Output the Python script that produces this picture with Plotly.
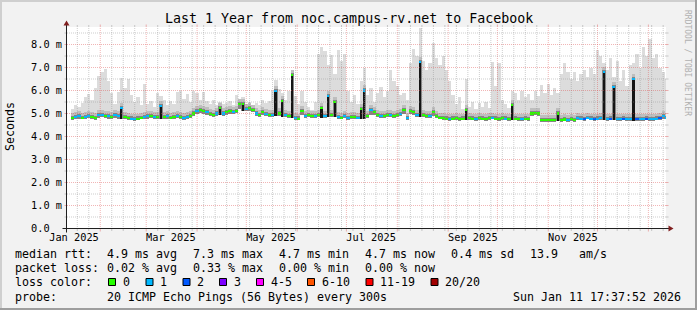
import plotly.graph_objects as go
import pandas as pd

# ---------------- data (2-day bins, first bin centred on 2025-01-13) ----------------
bin_first_centre = "2025-01-13"

median_ms = [
    None, 4.80, 4.85, 4.88, 4.82, 4.86, 4.90, 4.84, 4.80, 4.92,
    4.95, 4.90, 4.88, 4.85, 4.92, 4.88, 5.22, 4.85, 4.80, 4.78,
    4.75, 4.78, 4.82, 4.85, 4.88, 4.90, 4.86, 4.84, 5.32, 4.85,
    4.88, 4.82, 4.86, 4.90, 4.84, 4.80, 4.86, 4.90, 5.00, 5.10,
    5.15, 5.12, 5.05, 4.98, 4.95, 5.00, 5.22, 5.00, 5.05, 5.10,
    5.08, 5.12, 5.42, 5.40, 5.20, 5.22, 5.15, 5.00, 4.95, 5.05,
    4.98, 4.92, 4.95, 5.98, 5.00, 5.56, 4.95, 4.90, 6.67, 4.80,
    4.78, 5.10, 4.90, 4.95, 4.90, 4.88, 4.92, 5.22, 4.90, 5.76,
    4.95, 5.48, 4.85, 4.82, 4.88, 4.80, 4.84, 4.86, 4.82, 5.20,
    6.00, 4.90, 5.15, 5.05, 4.95, 4.90, 4.88, 4.92, 4.95, 4.90,
    4.95, 4.98, 5.15, 4.80, 5.10, 5.05, 4.95, 7.25, 4.92, 4.88,
    4.90, 5.07, 4.88, 4.82, 4.80, 4.78, 4.76, 4.78, 4.80, 4.76,
    4.78, 5.15, 4.80, 4.78, 4.76, 4.80, 4.78, 4.76, 4.80, 4.82,
    4.78, 4.76, 4.80, 4.78, 4.76, 5.37, 4.78, 4.76, 4.75, 4.78,
    4.76, 5.00, 5.02, 5.00, 4.72, 4.70, 4.71, 4.70, 4.72, 5.00,
    4.72, 4.74, 4.72, 4.75, 4.73, 4.80, 4.78, 4.76, 4.82, 4.78,
    4.76, 4.78, 4.80, 6.82, 4.76, 4.78, 6.17, 4.76, 4.75, 4.78,
    4.76, 4.75, 6.49, 4.76, 4.75, 4.76, 4.78, 4.75, 4.76, 4.78,
    4.80, 4.90, 4.82,
]

smoke_max_ms = [
    None, 5.20, 5.35, 5.30, 5.45, 5.70, 5.85, 5.60, 6.10, 6.65,
    6.80, 6.95, 6.40, 5.90, 5.40, 5.95, 6.55, 6.10, 6.50, 5.80,
    5.50, 5.70, 5.35, 6.30, 5.40, 5.55, 5.30, 5.90, 5.75, 5.60,
    5.35, 5.55, 5.40, 5.95, 6.00, 5.65, 5.85, 5.50, 6.00, 5.90,
    5.60, 5.95, 5.55, 5.40, 5.60, 5.35, 5.50, 5.40, 5.45, 5.55,
    5.35, 5.80, 5.65, 5.70, 5.40, 5.50, 5.25, 5.45, 5.35, 5.60,
    5.45, 5.55, 6.00, 6.45, 6.05, 5.90, 5.60, 6.00, 6.80, 5.75,
    5.40, 6.00, 5.50, 5.30, 5.15, 5.50, 7.60, 7.90, 7.70, 7.10,
    7.55, 6.70, 7.75, 7.30, 7.60, 6.00, 5.50, 5.80, 5.40, 6.40,
    7.00, 5.80, 6.10, 5.50, 5.90, 6.15, 5.70, 6.00, 6.90, 6.40,
    6.20, 5.80, 5.90, 5.60, 7.20, 7.80, 7.50, 8.70, 7.30, 6.90,
    7.20, 8.05, 7.40, 7.10, 7.50, 6.90, 6.40, 5.80, 5.40, 5.70,
    5.20, 6.50, 5.30, 5.50, 5.20, 5.45, 5.30, 5.50, 5.25, 7.25,
    6.20, 7.20, 5.60, 5.40, 5.25, 6.00, 5.90, 5.60, 6.00, 5.70,
    5.85, 5.60, 6.00, 5.75, 6.25, 5.90, 6.30, 5.80, 6.10, 5.90,
    6.70, 7.20, 6.80, 6.50, 6.80, 6.40, 6.70, 6.90, 6.60, 7.00,
    6.70, 7.75, 7.50, 7.20, 6.90, 7.40, 6.60, 7.30, 6.40, 6.90,
    6.20, 7.10, 7.20, 7.60, 7.00, 7.90, 7.50, 8.25, 7.40, 7.60,
    7.00, 6.80, 6.50,
]

smoke_min_ms = [
    None, 4.72, 4.76, 4.78, 4.74, 4.76, 4.80, 4.75, 4.72, 4.82,
    4.85, 4.80, 4.78, 4.76, 4.82, 4.78, 4.78, 4.76, 4.72, 4.70,
    4.68, 4.70, 4.74, 4.76, 4.78, 4.80, 4.77, 4.75, 4.76, 4.76,
    4.78, 4.74, 4.77, 4.80, 4.75, 4.72, 4.77, 4.80, 4.90, 4.98,
    5.02, 5.00, 4.95, 4.88, 4.86, 4.90, 4.92, 4.90, 4.95, 5.00,
    4.98, 5.02, 5.20, 5.10, 5.10, 5.12, 5.05, 4.90, 4.86, 4.95,
    4.88, 4.84, 4.86, 4.88, 4.90, 4.86, 4.86, 4.82, 4.80, 4.72,
    4.70, 4.92, 4.82, 4.86, 4.82, 4.80, 4.84, 4.82, 4.82, 4.84,
    4.86, 4.84, 4.77, 4.74, 4.80, 4.72, 4.76, 4.78, 4.74, 4.76,
    4.78, 4.82, 4.95, 4.95, 4.86, 4.82, 4.80, 4.84, 4.86, 4.82,
    4.86, 4.88, 5.00, 4.72, 4.98, 4.95, 4.86, 4.84, 4.84, 4.80,
    4.82, 4.90, 4.80, 4.74, 4.72, 4.70, 4.68, 4.70, 4.72, 4.68,
    4.70, 4.72, 4.72, 4.70, 4.68, 4.72, 4.70, 4.68, 4.72, 4.74,
    4.70, 4.68, 4.72, 4.70, 4.68, 4.72, 4.70, 4.68, 4.67, 4.70,
    4.68, 4.90, 4.92, 4.90, 4.64, 4.62, 4.63, 4.62, 4.64, 4.66,
    4.64, 4.66, 4.64, 4.67, 4.65, 4.72, 4.70, 4.68, 4.74, 4.70,
    4.68, 4.70, 4.72, 4.70, 4.68, 4.70, 4.70, 4.68, 4.67, 4.70,
    4.68, 4.67, 4.68, 4.68, 4.67, 4.68, 4.70, 4.67, 4.68, 4.70,
    4.72, 4.78, 4.74,
]

# loss colour bucket index for each bin
loss_bucket = [
    0, 0, 1, 1, 0, 1, 1, 0, 0, 1,
    1, 0, 1, 0, 1, 1, 1, 0, 0, 1,
    1, 0, 0, 1, 1, 0, 1, 0, 1, 0,
    1, 0, 0, 1, 0, 1, 1, 0, 0, 1,
    0, 0, 1, 0, 0, 1, 0, 1, 0, 0,
    1, 0, 0, 0, 1, 0, 0, 1, 0, 0,
    1, 0, 1, 1, 0, 0, 1, 0, 0, 1,
    0, 0, 1, 0, 0, 1, 0, 0, 1, 1,
    0, 0, 1, 0, 1, 1, 0, 0, 1, 0,
    1, 0, 1, 0, 0, 1, 0, 0, 1, 0,
    0, 1, 0, 1, 0, 0, 1, 1, 0, 0,
    1, 0, 0, 0, 0, 0, 1, 0, 0, 0,
    0, 0, 0, 0, 1, 0, 0, 0, 0, 1,
    0, 0, 0, 1, 0, 0, 0, 0, 1, 0,
    0, 0, 0, 0, 0, 0, 0, 0, 0, 0,
    0, 0, 1, 0, 0, 1, 1, 2, 1, 1,
    2, 1, 1, 1, 1, 2, 1, 1, 1, 2,
    1, 1, 1, 2, 1, 1, 2, 1, 1, 1,
    2, 1, 1,
]

loss_labels = ["0", "1", "2", "3", "4-5", "6-10", "11-19", "20/20"]
loss_colors = ["#26ff00", "#00b8ff", "#0059ff", "#7e00ff",
               "#ff00ff", "#ff5500", "#ff0000", "#a10000"]

y_tick_vals = [0, 1, 2, 3, 4, 5, 6, 7, 8]
y_tick_text = ["0.0&nbsp;&nbsp;", "1.0 m", "2.0 m", "3.0 m", "4.0 m",
               "5.0 m", "6.0 m", "7.0 m", "8.0 m"]
x_tick_dates = ["2025-01-16", "2025-03-16", "2025-05-16",
                "2025-07-16", "2025-09-16", "2025-11-16"]
x_tick_text = ["Jan 2025", "Mar 2025", "May 2025",
               "Jul 2025", "Sep 2025", "Nov 2025"]

rtt_values = ["4.9", "7.3", "4.7", "4.7", "0.4"]
rtt_names = ["avg", "max", "min", "now", "sd"]
rtt_am_per_s = "13.9"
loss_values = ["0.02", "0.33", "0.00", "0.00"]
loss_names = ["avg", "max", "min", "now"]

title_text = "Last 1 Year from noc.campus-rv.net to Facebook"
probe_text = "20 ICMP Echo Pings (56 Bytes) every 300s"
stamp_text = "Sun Jan 11 17:37:52 2026"
t_start = "2025-01-11 17:37:52"
t_end = "2026-01-11 17:37:52"

# ---------------- geometry / style ----------------
W, H = 697, 310
PL, PR, PT, PB = 67, 31, 27, 81
PW, PH = W - PL - PR, H - PT - PB
PX_PER_MS = 23.0
MONO = "DejaVu Sans Mono"
DAY = 86400000


def fx(px):
    return (px - PL) / PW


def fy(py):
    return (H - PB - py) / PH


bins = pd.date_range(bin_first_centre, periods=len(median_ms), freq="2D")
idx = [i for i, m in enumerate(median_ms) if m is not None]
xs = [bins[i] for i in idx]
lo = [smoke_min_ms[i] for i in idx]
hi = [smoke_max_ms[i] for i in idx]
med = [median_ms[i] for i in idx]
loss = [loss_bucket[i] for i in idx]


def bar(x, base, top, color, width):
    return go.Bar(x=x, base=base, y=[t - b for t, b in zip(top, base)],
                  width=width, marker=dict(color=color, line=dict(width=0)),
                  hoverinfo="skip", showlegend=False)


fig = go.Figure()
fig.add_trace(bar(xs, lo, hi, "#dcdcdc", 2 * DAY))
fig.add_trace(bar(xs, lo, [m + 0.22 for m in med], "#bebebe", 2 * DAY))
fig.add_trace(bar(xs, lo, [m + 0.09 for m in med], "#858585", 2 * DAY))
spk = [j for j in range(len(med)) if med[j] - lo[j] > 0.28]
fig.add_trace(bar([xs[j] for j in spk], [lo[j] for j in spk],
                  [med[j] for j in spk], "#151515", 1.1 * DAY))
med_w = [1.2 * DAY if j in spk else 2 * DAY for j in range(len(med))]
fig.add_trace(go.Bar(x=xs, base=[m - 0.045 for m in med], y=[0.09] * len(med),
                     width=med_w,
                     marker=dict(color=[loss_colors[b] for b in loss], line=dict(width=0)),
                     hoverinfo="skip", showlegend=False))

# ---------------- grid (drawn above the data like rrdtool) ----------------
shapes = []
MINOR = "rgba(143,143,143,0.45)"
MAJOR = "rgba(222,79,79,0.42)"
months = pd.date_range("2025-02-01", "2026-01-01", freq="MS")
weeks = pd.date_range("2025-01-18", "2026-01-11", freq="7D")
mset = set(months)
for d in weeks:
    if d in mset:
        continue
    shapes.append(dict(type="line", xref="x", yref="paper", x0=d, x1=d, y0=0, y1=1,
                       layer="above", line=dict(color=MINOR, width=1, dash="1px,1px")))
    for a, b in ((fy(231), fy(229)), (fy(27), fy(25))):
        shapes.append(dict(type="line", xref="x", yref="paper", x0=d, x1=d, y0=a, y1=b,
                           layer="above", line=dict(color=MINOR, width=1)))
for d in months:
    shapes.append(dict(type="line", xref="x", yref="paper", x0=d, x1=d, y0=0, y1=1,
                       layer="above", line=dict(color=MAJOR, width=1, dash="1px,1px")))
    for a, b in ((fy(231.5), fy(229)), (fy(27), fy(24.5))):
        shapes.append(dict(type="line", xref="x", yref="paper", x0=d, x1=d, y0=a, y1=b,
                           layer="above", line=dict(color=MAJOR, width=1)))
for k in range(1, 18):
    v = k * 0.5
    col = MAJOR if k % 2 == 0 else MINOR
    shapes.append(dict(type="line", xref="paper", yref="y", x0=0, x1=1, y0=v, y1=v,
                       layer="above", line=dict(color=col, width=1, dash="1px,1px")))
    for a, b in ((fx(64.5), fx(67)), (fx(666), fx(668.5))):
        shapes.append(dict(type="line", xref="paper", yref="y", x0=a, x1=b, y0=v, y1=v,
                           layer="above", line=dict(color=col, width=1)))

# axes + arrows
AX = "#1f1f1f"
shapes.append(dict(type="line", xref="paper", yref="paper", x0=fx(62.5), x1=fx(670),
                   y0=fy(228.5), y1=fy(228.5), layer="above", line=dict(color=AX, width=1)))
shapes.append(dict(type="line", xref="paper", yref="paper", x0=fx(66.5), x1=fx(66.5),
                   y0=fy(232.5), y1=fy(23), layer="above", line=dict(color=AX, width=1)))


def path(pts):
    return "M " + " L ".join(f"{fx(a):.5f},{fy(b):.5f}" for a, b in pts) + " Z"


ARROW = "#801f1f"
shapes.append(dict(type="path", xref="paper", yref="paper",
                   path=path([(668.5, 225.5), (668.5, 231.5), (673.5, 228.5)]),
                   fillcolor=ARROW, line=dict(width=0), layer="above"))
shapes.append(dict(type="path", xref="paper", yref="paper",
                   path=path([(63.5, 25.5), (69.5, 25.5), (66.5, 20.5)]),
                   fillcolor=ARROW, line=dict(width=0), layer="above"))

# 3D border
for (x0, y0, x1, y1, c) in ((0, 0, W, 2, "#cfcfcf"), (0, 0, 2, H, "#cfcfcf"),
                            (W - 2, 0, W, H, "#9e9e9e"), (0, H - 2, W, H, "#9e9e9e")):
    shapes.append(dict(type="rect", xref="paper", yref="paper", x0=fx(x0), x1=fx(x1),
                       y0=fy(y0), y1=fy(y1), fillcolor=c, line=dict(width=0), layer="above"))

# loss colour boxes
box_x = [108.5, 146, 183, 219.5, 256.5, 307.5, 366, 431]
for bx, c in zip(box_x, loss_colors):
    shapes.append(dict(type="rect", xref="paper", yref="paper", x0=fx(bx), x1=fx(bx + 7),
                       y0=fy(278.5), y1=fy(285.5), fillcolor=c,
                       line=dict(color="black", width=1), layer="above"))

# ---------------- texts ----------------
ann = []


def text(x, y, s, size=11.63, anchor="left", color="black", angle=0):
    ann.append(dict(x=fx(x), y=fy(y), xref="paper", yref="paper", text=s,
                    showarrow=False, xanchor=anchor, yanchor="middle",
                    borderpad=0, borderwidth=0, textangle=angle,
                    font=dict(family=MONO, size=size, color=color)))


text(348.5, 18.7, title_text, size=13.3, anchor="center")
text(10, 127, "Seconds", angle=-90, anchor="center")
text(688, 63, "RRDTOOL / TOBI OETIKER", size=8, anchor="center", color="#b0b0b0", angle=90)

ROW = [254.3, 268.4, 282.4, 296.5]
COLX = [106.9, 193.2, 278.5, 365.2, 450.9]
text(15.3, ROW[0], "median rtt:")
for cx, v, n in zip(COLX, rtt_values, rtt_names):
    text(cx, ROW[0], f"{v} ms {n}")
text(529.9, ROW[0], rtt_am_per_s)
text(578.5, ROW[0], "am/s")
text(15.3, ROW[1], "packet loss:")
for cx, v, n in zip(COLX, loss_values, loss_names):
    text(cx, ROW[1], f"{v} % {n}")
text(15.3, ROW[2], "loss color:")
lab_x = [123.2, 160.2, 196.9, 233.5, 270.9, 321.9, 379.9, 445.2]
for lx, s in zip(lab_x, loss_labels):
    text(lx, ROW[2], s)
text(15.3, ROW[3], "probe:")
text(106.9, ROW[3], probe_text)
text(681.3, ROW[3], stamp_text, anchor="right")

fig.update_layout(
    width=W, height=H,
    margin=dict(l=PL, r=PR, t=PT, b=PB, pad=0, autoexpand=False),
    paper_bgcolor="#f2f2f2", plot_bgcolor="#ffffff",
    barmode="overlay", bargap=0, showlegend=False,
    xaxis=dict(type="date", range=[t_start, t_end], showgrid=False, zeroline=False,
               showline=False, ticks="", tickvals=x_tick_dates, ticktext=x_tick_text,
               tickfont=dict(family=MONO, size=10.3, color="black"),
               ticklabelstandoff=1, fixedrange=True),
    yaxis=dict(range=[-0.5 / PX_PER_MS, (PH - 0.5) / PX_PER_MS], showgrid=False,
               zeroline=False, showline=False, ticks="", tickvals=y_tick_vals,
               ticktext=y_tick_text, tickfont=dict(family=MONO, size=10.3, color="black"),
               ticklabelstandoff=4, fixedrange=True),
    shapes=shapes, annotations=ann,
)

fig.write_html("out.html")
